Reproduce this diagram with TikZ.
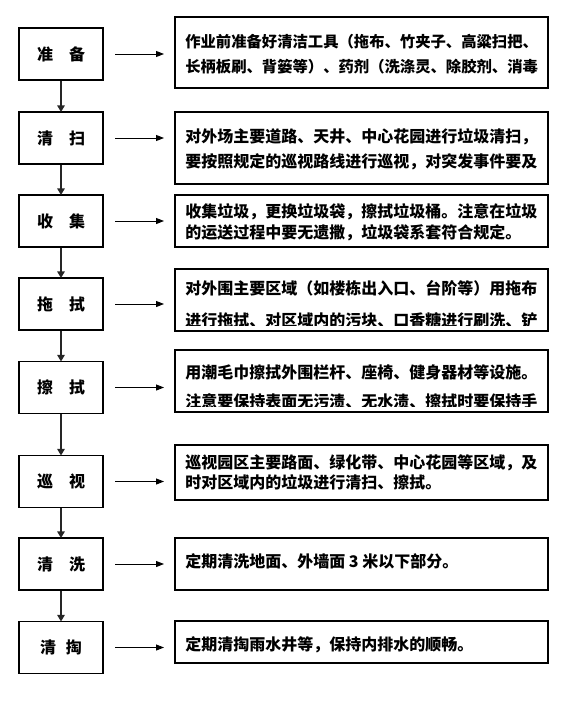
\documentclass[tikz,border=0pt]{standalone}
\usepackage{fontspec}
\newfontfamily\cjk{Noto Sans CJK SC}
\usetikzlibrary{arrows.meta}
\tikzset{
  lbox/.style={draw, line width=0.9pt, minimum width=63pt, minimum height=39pt, inner sep=0pt,
    font=\cjk\bfseries\fontsize{12pt}{12pt}\selectfont},
  rbox/.style={draw, line width=0.9pt, minimum width=279.75pt, inner sep=0pt},
  txt/.style={anchor=west, inner sep=0pt, text height=0.88em, text depth=0.12em,
    font=\cjk\bfseries\fontsize{12pt}{12pt}\selectfont},
  txtsmall/.style={txt, font=\cjk\bfseries\fontsize{11.5pt}{11.5pt}\selectfont},
  varrow/.style={draw=black!85, line width=1.6pt, -{Triangle[length=5pt,width=5.5pt]}, shorten >=-0.5pt},
  harrow/.style={draw, line width=0.75pt, -{Triangle[length=6pt,width=4.5pt]}}
}
\begin{document}
\begin{tikzpicture}[x=0.75pt,y=-0.75pt]
\useasboundingbox (0,0) rectangle (574,703);
% left boxes
\node[lbox] (L1) at (61,54) {准\hspace{1em}备};
\node[lbox] (L2) at (61,138) {清\hspace{1em}扫};
\node[lbox] (L3) at (61,221) {收\hspace{1em}集};
\node[lbox] (L4) at (61,304) {拖\hspace{1em}拭};
\node[lbox] (L5) at (61,387.5) {擦\hspace{1em}拭};
\node[lbox] (L6) at (61,481.5) {巡\hspace{1em}视};
\node[lbox] (L7) at (61,564) {清\hspace{1em}洗};
\node[lbox] (L8) at (61,647.5) {清\hspace{0.6em}掏};
% vertical arrows
\draw[varrow] (L1.south) -- (L2.north);
\draw[varrow] (L2.south) -- (L3.north);
\draw[varrow] (L3.south) -- (L4.north);
\draw[varrow] (L4.south) -- (L5.north);
\draw[varrow] (L5.south) -- (L6.north);
\draw[varrow] (L6.south) -- (L7.north);
\draw[varrow] (L7.south) -- (L8.north);
% right boxes
\node[rbox, minimum height=53.25pt] (R1) at (361.5,52.5) {};
\node[rbox, minimum height=54pt] (R2) at (361.5,148) {};
\node[rbox, minimum height=39pt] (R3) at (361.5,221) {};
\node[rbox, minimum height=46.5pt] (R4) at (361.5,300) {};
\node[rbox, minimum height=46.5pt] (R5) at (361.5,381) {};
\node[rbox, minimum height=41.25pt] (R6) at (361.5,472.5) {};
\node[rbox, minimum height=39pt] (R7) at (361.5,564) {};
\node[rbox, minimum height=31.5pt] (R8) at (361.5,642) {};
% horizontal arrows
\foreach \i/\y in {1/54,2/138,3/221,4/304,5/387.5,6/481.5,7/564,8/647.5}{
  \coordinate (hs\i) at (115,\y);
  \coordinate (he\i) at (164,\y);
  \draw[harrow] (hs\i) -- (he\i);
}
% texts
\node[txtsmall] (T1a) at (185,42) {作业前准备好清洁工具（拖布、竹夹子、高粱扫把、};
\node[txtsmall] (T1b) at (185,67) {长柄板刷、背篓等）、药剂（洗涤灵、除胶剂、消毒};
\node[txt] (T2a) at (185,137) {对外场主要道路、天井、中心花园进行垃圾清扫，};
\node[txt] (T2b) at (185,162) {要按照规定的巡视路线进行巡视，对突发事件要及};
\node[txt] (T3a) at (185,212) {收集垃圾，更换垃圾袋，擦拭垃圾桶。注意在垃圾};
\node[txt] (T3b) at (185,233) {的运送过程中要无遗撒，垃圾袋系套符合规定。};
\node[txt] (T4a) at (185,289) {对外围主要区域（如楼栋出入口、台阶等）用拖布};
\begin{scope}
\clip (176,300) rectangle (547,325);
\node[txt] (T4b) at (185,321) {进行拖拭、对区域内的污块、口香糖进行刷洗、铲};
\end{scope}
\node[txt] (T5a) at (185,373) {用潮毛巾擦拭外围栏杆、座椅、健身器材等设施。};
\begin{scope}
\clip (176,385) rectangle (547,406);
\node[txt] (T5b) at (185,402) {注意要保持表面无污渍、无水渍、擦拭时要保持手};
\end{scope}
\node[txt] (T6a) at (185,463) {巡视园区主要路面、绿化带、中心花园等区域，及};
\node[txt] (T6b) at (185,483) {时对区域内的垃圾进行清扫、擦拭。};
\node[txt] (T7) at (185,562) {定期清洗地面、外墙面 3 米以下部分。};
\node[txt] (T8) at (185,645) {定期清掏雨水井等，保持内排水的顺畅。};
\end{tikzpicture}
\end{document}
